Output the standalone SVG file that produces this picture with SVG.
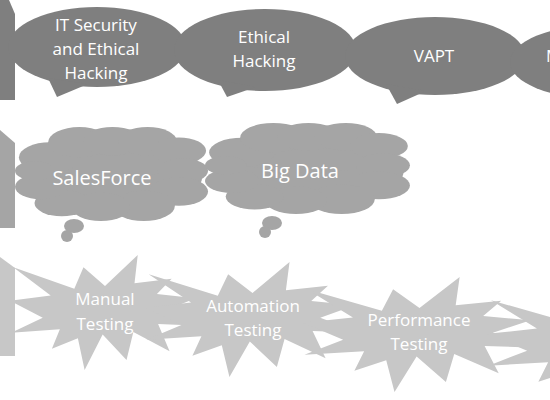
<svg xmlns="http://www.w3.org/2000/svg" xmlns:xlink="http://www.w3.org/1999/xlink" width="550" height="400" viewBox="0 0 550 400">
<style>
.dark{fill:#7f7f7f}
.mid{fill:#a5a5a5}
.light{fill:#c7c7c7}
text{font-family:"Open Sans","Liberation Sans",sans-serif;font-size:17px;fill:#ffffff;text-anchor:middle}
text.big{font-size:20px}
</style>
<defs>
<polygon id="star" points="50,26.85 67.23,0 65.53,24.65 85.09,20.63 77.32,33.87 97.67,37.67 81.51,48.5 100,61.53 77.95,59.92 84,83.77 64.91,66.93 61.33,91.38 48.76,69.14 39.28,100 35.72,72.35 22.05,81.56 26.24,64.52 0.63,67.53 17.23,54.51 0,39.88 21.42,35.26 1.71,10.63 33.85,29.26 38.67,10.63"/>
<g id="cloud">
<ellipse cx="50" cy="52" rx="46" ry="40"/>
<ellipse cx="50" cy="30" rx="40" ry="24"/>
<circle cx="18" cy="32" r="16"/>
<circle cx="33" cy="16" r="16"/>
<circle cx="50" cy="15" r="15"/>
<circle cx="68" cy="15" r="15"/>
<circle cx="84" cy="25" r="14"/>
<circle cx="86" cy="46" r="13"/>
<circle cx="84" cy="68" r="15"/>
<circle cx="66" cy="83" r="16"/>
<circle cx="44" cy="84" r="15"/>
<circle cx="24" cy="80" r="14"/>
<circle cx="13" cy="63" r="13"/>
<circle cx="10" cy="46" r="10"/>
</g>
</defs>
<rect width="550" height="400" fill="#ffffff"/>
<g id="connectors"/>
<!-- Row 1 -->
<g id="row1-block"><polygon class="dark" points="0,0 9,0 15,14 15,100 0,100"/></g>
<g id="node-it-security">
<ellipse class="dark" cx="97" cy="47" rx="89" ry="40"/>
<polygon class="dark" points="48,78 57,97 88,84"/>
<text x="96" y="31">IT Security</text>
<text x="96" y="55">and Ethical</text>
<text x="96" y="79">Hacking</text>
</g>
<g id="node-ethical-hacking">
<ellipse class="dark" cx="265" cy="50" rx="91" ry="41"/>
<polygon class="dark" points="218,80 227,97 256,87"/>
<text x="264" y="43">Ethical</text>
<text x="264" y="67">Hacking</text>
</g>
<g id="node-vapt">
<ellipse class="dark" cx="435" cy="56" rx="90" ry="39"/>
<polygon class="dark" points="386,84 397,104 426,91"/>
<text x="434" y="62">VAPT</text>
</g>
<g id="node-m">
<ellipse class="dark" cx="600" cy="62" rx="90" ry="37"/>
<text x="546" y="62" style="text-anchor:start">M</text>
</g>
<!-- Row 2 -->
<g id="row2-block"><polygon class="mid" points="0,130 15,143 15,228 0,228"/></g>
<g id="node-salesforce" class="mid">
<use xlink:href="#cloud" href="#cloud" transform="translate(15,127) scale(1.95,0.95)"/>
<ellipse cx="74" cy="226" rx="10" ry="7"/>
<ellipse cx="67" cy="236" rx="6" ry="6"/>
<text class="big" x="102" y="185">SalesForce</text>
</g>
<g id="node-big-data" class="mid">
<use xlink:href="#cloud" href="#cloud" transform="translate(205,123) scale(2.07,0.92)"/>
<ellipse cx="272" cy="223" rx="10" ry="7"/>
<ellipse cx="265" cy="232" rx="6" ry="6"/>
<text class="big" x="300" y="178">Big Data</text>
</g>
<!-- Row 3 -->
<g id="row3-block"><polygon class="light" points="0,257 15,268 15,356 0,356"/></g>
<g id="node-manual-testing" class="light">
<use xlink:href="#star" href="#star" transform="translate(10,255) scale(1.9,1.15)"/>
<text x="105" y="305">Manual</text>
<text x="105" y="330">Testing</text>
</g>
<g id="node-automation-testing" class="light">
<use xlink:href="#star" href="#star" transform="translate(145,262) scale(2.15,1.15)"/>
<text x="253" y="312">Automation</text>
<text x="253" y="336">Testing</text>
</g>
<g id="node-performance-testing" class="light">
<use xlink:href="#star" href="#star" transform="translate(303,277) scale(2.33,1.15)"/>
<text x="419" y="326">Performance</text>
<text x="419" y="350">Testing</text>
</g>
<g id="node-star4" class="light">
<use xlink:href="#star" href="#star" transform="translate(487,288) scale(2.33,1.15)"/>
</g>
</svg>
